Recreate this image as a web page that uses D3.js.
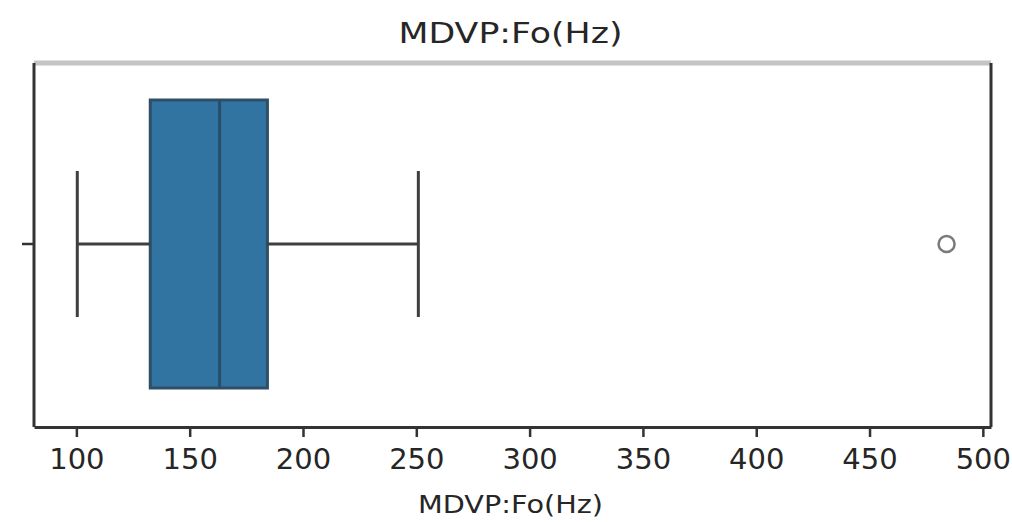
<!DOCTYPE html>
<html><head><meta charset="utf-8">
<script src="https://cdn.jsdelivr.net/npm/d3@7"></script>
<style>body{margin:0;background:#fff}svg{display:block}text{font-family:"DejaVu Sans",sans-serif;fill:#262626}</style>
</head><body><svg id="c" width="1012" height="522"></svg>
<script>
const title = "MDVP:Fo(Hz)";
const xLabel = "MDVP:Fo(Hz)";
const xTicks = [100,150,200,250,300,350,400,450,500];
const whiskerLow = [100.4];
const q1 = [132.6];
const median = [163.2];
const q3 = [184.3];
const whiskerHigh = [250.9];
const outliers = [484];

const svg = d3.select("#c");
const L=34, R=991, T=63, B=427;
const x = d3.scaleLinear().domain([81.3, 503.6]).range([L, R]);
const yc = 244, boxH = 288, capH = 146;
const lineCol = "#3f3f3f";

// box
svg.append("rect").attr("x", x(q1[0])).attr("y", yc-boxH/2)
  .attr("width", x(q3[0])-x(q1[0])).attr("height", boxH)
  .attr("fill","#3274a1").attr("stroke","#2f4f66").attr("stroke-width",3);
// whiskers
svg.append("line").attr("x1",x(whiskerLow[0])).attr("x2",x(q1[0])).attr("y1",yc).attr("y2",yc).attr("stroke",lineCol).attr("stroke-width",3);
svg.append("line").attr("x1",x(q3[0])).attr("x2",x(whiskerHigh[0])).attr("y1",yc).attr("y2",yc).attr("stroke",lineCol).attr("stroke-width",3);
[whiskerLow[0], whiskerHigh[0]].forEach(v=>{
  svg.append("line").attr("x1",x(v)).attr("x2",x(v)).attr("y1",yc-capH/2).attr("y2",yc+capH/2).attr("stroke",lineCol).attr("stroke-width",3);
});
svg.append("line").attr("x1",x(median[0])).attr("x2",x(median[0])).attr("y1",yc-boxH/2).attr("y2",yc+boxH/2).attr("stroke","#2a4e6a").attr("stroke-width",3);
// outliers
svg.selectAll("circle.o").data(outliers).enter().append("circle")
  .attr("cx",d=>x(d)).attr("cy",yc).attr("r",8).attr("fill","none").attr("stroke","#7a7a7a").attr("stroke-width",2.5);

// frame
svg.append("line").attr("x1",L).attr("x2",R).attr("y1",T).attr("y2",T).attr("stroke","#c4c4c4").attr("stroke-width",5);
svg.append("line").attr("x1",L).attr("x2",L).attr("y1",T).attr("y2",B).attr("stroke","#333").attr("stroke-width",3);
svg.append("line").attr("x1",R).attr("x2",R).attr("y1",T).attr("y2",B).attr("stroke","#333").attr("stroke-width",3);

// x axis
const ax = svg.append("g").attr("transform",`translate(0,${B})`)
  .call(d3.axisBottom(x).tickValues(xTicks).tickSize(10).tickSizeOuter(0).tickPadding(11).tickFormat(d3.format("d")));
ax.select(".domain").attr("stroke","#333").attr("stroke-width",3);
ax.selectAll(".tick line").attr("stroke","#333").attr("stroke-width",2.5);
ax.selectAll(".tick text").style("font-size","29px").attr("fill","#262626");
// y tick
svg.append("line").attr("x1",L-12).attr("x2",L).attr("y1",yc).attr("y2",yc).attr("stroke","#333").attr("stroke-width",2.5);

svg.append("text").attr("x",(L+R)/2-2).attr("y",43).attr("text-anchor","middle").style("font-size","28px")
  .attr("textLength",224).attr("lengthAdjust","spacingAndGlyphs").text(title);
svg.append("text").attr("x",(L+R)/2-2).attr("y",513).attr("text-anchor","middle").style("font-size","25px")
  .attr("textLength",185).attr("lengthAdjust","spacingAndGlyphs").text(xLabel);
</script></body></html>
